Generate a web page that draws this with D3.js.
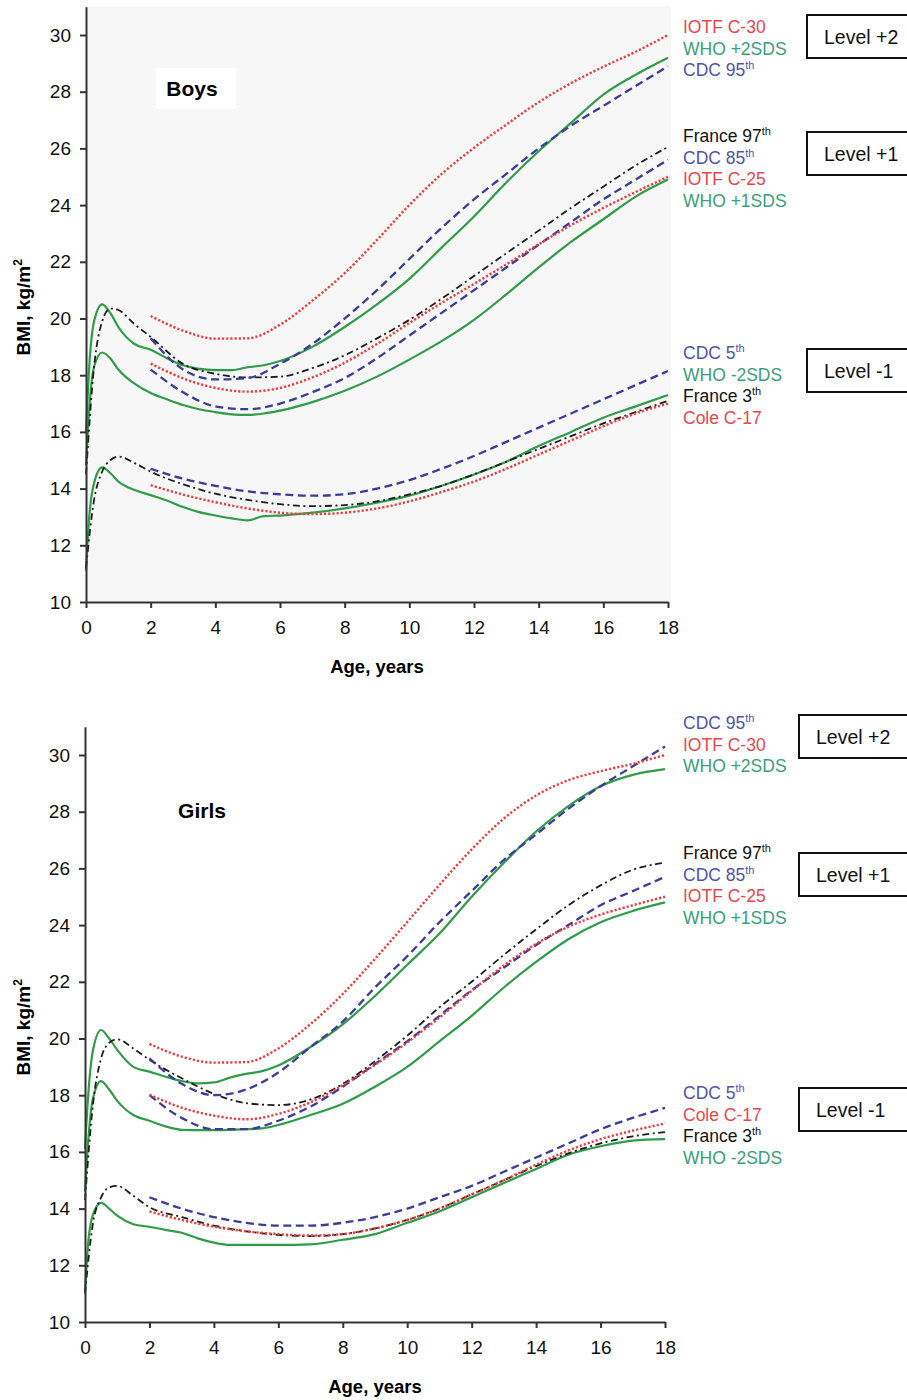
<!DOCTYPE html>
<html>
<head>
<style>
  html, body { margin: 0; padding: 0; background: #fff; overflow: hidden; }
  svg { display: block; font-family: "Liberation Sans", Arial, sans-serif; }
</style>
</head>
<body>
<script src="https://d3js.org/d3.v7.min.js"></script>
<script>
// ---- ages ----
const yearAges = [2, 3, 4, 5, 6, 7, 8, 9, 10, 11, 12, 13, 14, 15, 16, 17, 18];
const whoAges = [0, 0.1, 0.25, 0.5, 0.75, 1, 1.5, 2, 2.5, 3, 3.5, 4, 4.5, 5, 5.5, 6, 7, 8, 9, 10, 11, 12, 13, 14, 15, 16, 17, 18];
const frAges = [0, 0.25, 0.5, 0.75, 1, 1.5, 2, 3, 4, 5, 6, 7, 8, 9, 10, 11, 12, 13, 14, 15, 16, 17, 18];

const xTicks = [0, 2, 4, 6, 8, 10, 12, 14, 16, 18];
const yTicks = [10, 12, 14, 16, 18, 20, 22, 24, 26, 28, 30];

// ---- boys ----
const boysIotf30 = [20.09, 19.57, 19.29, 19.30, 19.78, 20.63, 21.60, 22.77, 24.00, 25.10, 26.02, 26.84, 27.63, 28.30, 28.88, 29.41, 30.0];
const boysIotf25 = [18.41, 17.89, 17.55, 17.42, 17.55, 17.92, 18.44, 19.10, 19.84, 20.55, 21.22, 21.91, 22.62, 23.29, 23.90, 24.46, 25.0];
const boysCole17 = [14.12, 13.79, 13.52, 13.30, 13.15, 13.10, 13.15, 13.30, 13.55, 13.88, 14.25, 14.70, 15.20, 15.70, 16.20, 16.65, 17.0];
const boysCdc95 = [19.3, 18.2, 17.85, 17.9, 18.4, 19.1, 20.0, 21.0, 22.1, 23.2, 24.2, 25.1, 26.0, 26.8, 27.5, 28.2, 28.9];
const boysCdc85 = [18.2, 17.4, 16.9, 16.8, 17.0, 17.4, 17.9, 18.6, 19.4, 20.2, 21.0, 21.8, 22.6, 23.4, 24.2, 24.9, 25.6];
const boysCdc5 = [14.7, 14.35, 14.1, 13.9, 13.8, 13.75, 13.8, 14.0, 14.3, 14.7, 15.15, 15.65, 16.15, 16.65, 17.15, 17.65, 18.15];
const boysWho2 = [16.0, 18.3, 19.9, 20.5, 20.2, 19.7, 19.1, 18.9, 18.6, 18.35, 18.22, 18.18, 18.18, 18.28, 18.35, 18.5, 19.0, 19.7, 20.5, 21.4, 22.5, 23.6, 24.8, 25.9, 26.9, 27.9, 28.6, 29.2];
const boysWho1 = [14.8, 16.8, 18.3, 18.8, 18.6, 18.2, 17.7, 17.37, 17.15, 16.95, 16.8, 16.7, 16.62, 16.6, 16.65, 16.75, 17.05, 17.45, 17.95, 18.55, 19.2, 19.95, 20.85, 21.8, 22.7, 23.5, 24.3, 24.9];
const boysWhoM2 = [11.1, 13.0, 14.2, 14.75, 14.55, 14.25, 13.95, 13.77, 13.58, 13.35, 13.17, 13.05, 12.95, 12.88, 13.03, 13.05, 13.15, 13.3, 13.5, 13.75, 14.1, 14.5, 14.95, 15.5, 16.0, 16.5, 16.9, 17.3];
const boysFr97 = [14.5, 18.3, 19.9, 20.35, 20.3, 19.8, 19.35, 18.4, 18.05, 17.92, 17.95, 18.25, 18.7, 19.3, 19.95, 20.7, 21.5, 22.3, 23.1, 23.9, 24.65, 25.4, 26.05];
const boysFr3 = [11.2, 13.6, 14.6, 15.0, 15.13, 14.9, 14.6, 14.15, 13.82, 13.6, 13.45, 13.38, 13.42, 13.55, 13.8, 14.1, 14.5, 14.95, 15.4, 15.85, 16.3, 16.7, 17.1];

// ---- girls ----
const girlsIotf30 = [19.81, 19.36, 19.15, 19.17, 19.65, 20.51, 21.57, 22.81, 24.11, 25.42, 26.67, 27.76, 28.57, 29.11, 29.43, 29.69, 30.0];
const girlsIotf25 = [18.02, 17.56, 17.28, 17.15, 17.34, 17.75, 18.35, 19.07, 19.86, 20.74, 21.68, 22.58, 23.34, 23.94, 24.37, 24.70, 25.0];
const girlsCole17 = [13.90, 13.60, 13.36, 13.20, 13.10, 13.05, 13.10, 13.30, 13.60, 14.00, 14.50, 15.00, 15.55, 16.05, 16.45, 16.75, 17.0];
const girlsCdc95 = [19.3, 18.4, 18.0, 18.2, 18.8, 19.7, 20.6, 21.8, 22.9, 24.1, 25.2, 26.3, 27.2, 28.1, 28.9, 29.6, 30.3];
const girlsCdc85 = [18.0, 17.2, 16.8, 16.8, 17.1, 17.6, 18.3, 19.1, 19.9, 20.8, 21.7, 22.5, 23.3, 24.0, 24.7, 25.2, 25.7];
const girlsCdc5 = [14.4, 14.0, 13.7, 13.5, 13.4, 13.4, 13.5, 13.7, 14.0, 14.4, 14.8, 15.3, 15.8, 16.3, 16.8, 17.2, 17.55];
const girlsWho2 = [16.1, 18.0, 19.6, 20.3, 20.0, 19.6, 19.0, 18.83, 18.65, 18.5, 18.42, 18.45, 18.62, 18.75, 18.85, 19.05, 19.7, 20.5, 21.5, 22.6, 23.7, 25.0, 26.2, 27.3, 28.2, 28.9, 29.3, 29.5];
const girlsWho1 = [14.6, 16.4, 17.9, 18.5, 18.2, 17.8, 17.3, 17.1, 16.9, 16.78, 16.77, 16.77, 16.78, 16.8, 16.83, 16.95, 17.3, 17.7, 18.3, 19.0, 19.9, 20.8, 21.8, 22.7, 23.5, 24.1, 24.5, 24.8];
const girlsWhoM2 = [11.1, 12.8, 13.8, 14.2, 14.0, 13.75, 13.45, 13.36, 13.25, 13.15, 12.95, 12.8, 12.72, 12.72, 12.72, 12.72, 12.74, 12.9, 13.1, 13.5, 13.9, 14.4, 14.9, 15.4, 15.9, 16.2, 16.4, 16.45];
const girlsFr97 = [14.3, 17.7, 19.3, 19.85, 19.97, 19.65, 19.25, 18.6, 18.05, 17.72, 17.65, 17.85, 18.4, 19.2, 20.1, 21.1, 22.0, 22.95, 23.85, 24.7, 25.4, 25.95, 26.2];
const girlsFr3 = [11.0, 13.5, 14.4, 14.75, 14.8, 14.45, 14.05, 13.7, 13.4, 13.2, 13.07, 13.03, 13.1, 13.3, 13.6, 14.0, 14.5, 15.0, 15.5, 15.95, 16.3, 16.55, 16.7];

// ---- legend labels (text, superscript, kind) ----
const boysLegend = [
  [["IOTF C-30", "", "iotf"], ["WHO +2SDS", "", "who"], ["CDC 95", "th", "cdc"]],
  [["France 97", "th", "fr"], ["CDC 85", "th", "cdc"], ["IOTF C-25", "", "iotf"], ["WHO +1SDS", "", "who"]],
  [["CDC 5", "th", "cdc"], ["WHO -2SDS", "", "who"], ["France 3", "th", "fr"], ["Cole C-17", "", "iotf"]]
];
const girlsLegend = [
  [["CDC 95", "th", "cdc"], ["IOTF C-30", "", "iotf"], ["WHO +2SDS", "", "who"]],
  [["France 97", "th", "fr"], ["CDC 85", "th", "cdc"], ["IOTF C-25", "", "iotf"], ["WHO +1SDS", "", "who"]],
  [["CDC 5", "th", "cdc"], ["Cole C-17", "", "iotf"], ["France 3", "th", "fr"], ["WHO -2SDS", "", "who"]]
];
const levelLabels = ["Level +2", "Level +1", "Level -1"];

// ---- styles ----
const lineStyle = {
  iotf: { stroke: "#ee3b3e", dash: "2.2,2", width: 2.4 },
  who: { stroke: "#2f9c48", dash: null, width: 2.2 },
  cdc: { stroke: "#3b3b99", dash: "8,4.5", width: 2.3 },
  fr: { stroke: "#1c1c1c", dash: "7,3.5,2,3.5", width: 1.8 }
};
const textColor = { iotf: "#e8474d", who: "#3a9f7b", cdc: "#5353a6", fr: "#111" };

const W = 907, H = 1400;
const svg = d3.select("body").append("svg").attr("width", W).attr("height", H);

function drawPanel(p) {
  const x = d3.scaleLinear().domain([0, 18]).range([p.left, p.right]);
  const y = d3.scaleLinear().domain([10, 31]).range([p.bottom, p.bottom - 21 * 28.35]);
  const g = svg.append("g");

  if (p.shade) {
    g.append("rect")
      .attr("x", x(0)).attr("y", y(31))
      .attr("width", x(18) - x(0) + 3).attr("height", y(10) - y(31))
      .attr("fill", "#f7f7f7");
  }

  // title box (Boys / Girls)
  g.append("rect")
    .attr("x", p.titleX - 36).attr("y", p.titleY - 28)
    .attr("width", 80).attr("height", 41)
    .attr("fill", "#fff");
  g.append("text")
    .attr("x", p.titleX).attr("y", p.titleY)
    .attr("text-anchor", "middle")
    .attr("font-size", 21).attr("font-weight", "bold")
    .text(p.title);

  const line = d3.line()
    .x(d => x(d[0]))
    .y(d => y(d[1]))
    .curve(d3.curveMonotoneX);

  p.series.forEach(s => {
    const st = lineStyle[s.kind];
    g.append("path")
      .datum(s.ages.map((a, i) => [a, s.values[i]]))
      .attr("d", line)
      .attr("fill", "none")
      .attr("stroke", st.stroke)
      .attr("stroke-width", st.width)
      .attr("stroke-dasharray", st.dash);
  });

  // axes
  const yAxis = g.append("g")
    .attr("transform", `translate(${x(0)},0)`)
    .call(d3.axisLeft(y).tickValues(yTicks).tickSize(6).tickSizeOuter(0).tickPadding(9));
  const xAxis = g.append("g")
    .attr("transform", `translate(0,${y(10)})`)
    .call(d3.axisBottom(x).tickValues(xTicks).tickSize(6).tickSizeOuter(0).tickPadding(13));
  [yAxis, xAxis].forEach(a => {
    a.select(".domain").attr("stroke", "#333").attr("stroke-width", 2);
    a.selectAll(".tick line").attr("stroke", "#333").attr("stroke-width", 2);
    a.selectAll(".tick text").attr("font-size", 19).attr("fill", "#111")
      .attr("font-family", "'Liberation Sans', Arial, sans-serif");
  });

  g.append("text")
    .attr("x", (x(0) + x(18)) / 2).attr("y", y(10) + 71)
    .attr("text-anchor", "middle")
    .attr("font-size", 18.5).attr("font-weight", "bold")
    .text("Age, years");

  const yt = g.append("text")
    .attr("transform", `translate(30,${(y(10) + y(31)) / 2 + 3}) rotate(-90)`)
    .attr("text-anchor", "middle")
    .attr("font-size", 19).attr("font-weight", "bold");
  yt.append("tspan").text("BMI, kg/m");
  yt.append("tspan").attr("font-size", 12).attr("dy", -8).text("2");

  // legend groups
  p.legend.forEach((grp, gi) => {
    grp.forEach((item, i) => {
      const t = g.append("text")
        .attr("x", 683).attr("y", p.legendY[gi] + i * 21.7)
        .attr("font-size", 17.5)
        .attr("fill", textColor[item[2]]);
      t.append("tspan").text(item[0]);
      if (item[1]) t.append("tspan").attr("font-size", 11).attr("dy", -7).text(item[1]);
    });
  });

  // level boxes
  levelLabels.forEach((lab, i) => {
    const top = p.boxY[i];
    g.append("rect")
      .attr("x", p.boxX).attr("y", top)
      .attr("width", 140).attr("height", 43)
      .attr("fill", "#fff").attr("stroke", "#111").attr("stroke-width", 2);
    g.append("text")
      .attr("x", p.boxX + 17).attr("y", top + 28.5)
      .attr("font-size", 19.5).attr("fill", "#111")
      .text(lab);
  });
}

drawPanel({
  title: "Boys", titleX: 192, titleY: 96,
  left: 86, right: 668, bottom: 602, shade: true,
  legend: boysLegend, legendY: [33, 142, 359],
  boxX: 807, boxY: [15, 132, 349],
  series: [
    { ages: whoAges, values: boysWho2, kind: "who" },
    { ages: whoAges, values: boysWho1, kind: "who" },
    { ages: whoAges, values: boysWhoM2, kind: "who" },
    { ages: frAges, values: boysFr97, kind: "fr" },
    { ages: frAges, values: boysFr3, kind: "fr" },
    { ages: yearAges, values: boysCdc95, kind: "cdc" },
    { ages: yearAges, values: boysCdc85, kind: "cdc" },
    { ages: yearAges, values: boysCdc5, kind: "cdc" },
    { ages: yearAges, values: boysIotf30, kind: "iotf" },
    { ages: yearAges, values: boysIotf25, kind: "iotf" },
    { ages: yearAges, values: boysCole17, kind: "iotf" }
  ]
});

drawPanel({
  title: "Girls", titleX: 202, titleY: 818,
  left: 85, right: 665, bottom: 1322, shade: false,
  legend: girlsLegend, legendY: [729, 859, 1099],
  boxX: 799, boxY: [715, 853, 1088],
  series: [
    { ages: whoAges, values: girlsWho2, kind: "who" },
    { ages: whoAges, values: girlsWho1, kind: "who" },
    { ages: whoAges, values: girlsWhoM2, kind: "who" },
    { ages: frAges, values: girlsFr97, kind: "fr" },
    { ages: frAges, values: girlsFr3, kind: "fr" },
    { ages: yearAges, values: girlsCdc95, kind: "cdc" },
    { ages: yearAges, values: girlsCdc85, kind: "cdc" },
    { ages: yearAges, values: girlsCdc5, kind: "cdc" },
    { ages: yearAges, values: girlsIotf30, kind: "iotf" },
    { ages: yearAges, values: girlsIotf25, kind: "iotf" },
    { ages: yearAges, values: girlsCole17, kind: "iotf" }
  ]
});
</script>
</body>
</html>
